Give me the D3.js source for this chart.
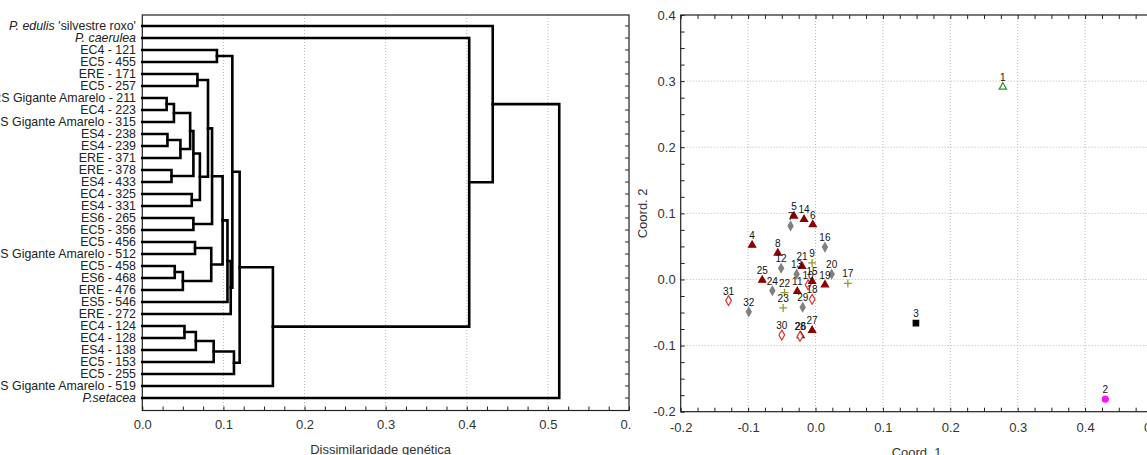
<!DOCTYPE html>
<html>
<head>
<meta charset="utf-8">
<script src="https://cdn.jsdelivr.net/npm/d3@7"></script>
<style>
  body { margin: 0; background: #fff; }
  svg text { font-family: Arial, "Liberation Sans", sans-serif; }
</style>
</head>
<body>
<div id="chart"></div>
<script>
// ---- dendrogram data ----
const leafLabels = [
  "P. edulis 'silvestre roxo'", "P. caerulea",
  "EC4 - 121", "EC5 - 455", "ERE - 171", "EC5 - 257",
  "BRS Gigante Amarelo - 211", "EC4 - 223", "BRS Gigante Amarelo - 315",
  "ES4 - 238", "ES4 - 239", "ERE - 371", "ERE - 378", "ES4 - 433",
  "EC4 - 325", "ES4 - 331", "ES6 - 265", "EC5 - 356", "EC5 - 456",
  "BRS Gigante Amarelo - 512", "EC5 - 458", "ES6 - 468", "ERE - 476",
  "ES5 - 546", "ERE - 272", "EC4 - 124", "EC4 - 128", "ES4 - 138",
  "EC5 - 153", "EC5 - 255", "BRS Gigante Amarelo - 519", "P.setacea"
];
// [child a, child b, height]; ids >= 32 refer to earlier merges
const merges = [
  [2, 3, 0.092],   // 32
  [4, 5, 0.068],   // 33
  [6, 7, 0.030],   // 34
  [34, 8, 0.039],  // 35
  [9, 10, 0.031],  // 36
  [36, 11, 0.047], // 37
  [35, 37, 0.059], // 38
  [12, 13, 0.036], // 39
  [38, 39, 0.063], // 40
  [14, 15, 0.061], // 41
  [40, 41, 0.071], // 42
  [33, 42, 0.081], // 43
  [16, 17, 0.063], // 44
  [43, 44, 0.086], // 45
  [18, 19, 0.065], // 46
  [20, 21, 0.040], // 47
  [47, 22, 0.050], // 48
  [46, 48, 0.085], // 49
  [45, 49, 0.099], // 50
  [50, 23, 0.105], // 51
  [51, 24, 0.109], // 52
  [32, 52, 0.111], // 53
  [25, 26, 0.052], // 54
  [54, 27, 0.066], // 55
  [55, 28, 0.088], // 56
  [56, 29, 0.113], // 57
  [53, 57, 0.120], // 58
  [58, 30, 0.161], // 59
  [1, 59, 0.403],  // 60
  [0, 60, 0.432],  // 61
  [61, 31, 0.514]  // 62
];
const italicLeaves = [0, 1, 31];
const distTicks = [0, 0.1, 0.2, 0.3, 0.4, 0.5, 0.6];

// ---- PCoA data ----
const pointIds = d3.range(1, 33);
const coord1 = [0.278, 0.430, 0.149, -0.094, -0.032, -0.004, -0.037, -0.056, -0.005, -0.011,
                -0.027, -0.051, -0.028, -0.017, -0.005, 0.014, 0.048, -0.005, 0.014, 0.024,
                -0.020, -0.046, -0.048, -0.064, -0.079, -0.022, -0.005, -0.023, -0.019, -0.050,
                -0.129, -0.099];
const coord2 = [0.291, -0.181, -0.066, 0.052, 0.096, 0.083, 0.081, 0.040, 0.025, -0.008,
                -0.018, 0.017, 0.008, 0.091, -0.003, 0.049, -0.006, -0.030, -0.008, 0.008,
                0.020, -0.020, -0.043, -0.017, -0.001, -0.085, -0.077, -0.086, -0.042, -0.084,
                -0.032, -0.049];
const pointGroup = ["edulis", "setacea", "caerulea", "tri", "tri", "tri", "dia", "tri", "plus", "open",
                    "tri", "dia", "dia", "tri", "tri", "dia", "plus", "open", "tri", "dia",
                    "tri", "plus", "plus", "dia", "tri", "tri", "tri", "open", "dia", "open",
                    "open", "dia"];
const coord1Ticks = [-0.2, -0.1, 0.0, 0.1, 0.2, 0.3, 0.4, 0.5];
const coord2Ticks = [-0.2, -0.1, 0.0, 0.1, 0.2, 0.3, 0.4];

const W = 1147, H = 455;
const fmt = d => d.toFixed(1);
const gridColor = "#b8b8b8";

const svg = d3.select("#chart").append("svg")
  .attr("width", W).attr("height", H);
svg.append("rect").attr("width", W).attr("height", H).attr("fill", "#fff");

// =============== left panel: dendrogram ===============
svg.append("clipPath").attr("id", "clipL")
  .append("rect").attr("x", 0).attr("y", 0).attr("width", 632).attr("height", H);
const left = svg.append("g").attr("clip-path", "url(#clipL)");

const dX = d3.scaleLinear().domain([0, 0.6]).range([142.3, 629]);
const dY = d3.scaleLinear().domain([0, leafLabels.length - 1]).range([26, 398]);
const dTop = 15, dBottom = 410.5;

// grid
left.append("g").selectAll("line").data(distTicks.slice(1, -1)).join("line")
  .attr("x1", d => dX(d)).attr("x2", d => dX(d))
  .attr("y1", dTop).attr("y2", dBottom)
  .attr("stroke", gridColor).attr("stroke-dasharray", "1,2");

// frame
left.append("rect").attr("x", dX(0)).attr("y", dTop)
  .attr("width", dX(0.6) - dX(0)).attr("height", dBottom - dTop)
  .attr("fill", "none").attr("stroke", "#222").attr("stroke-width", 1.2);

// bottom axis
const dAxis = left.append("g").attr("transform", `translate(0,${dBottom})`)
  .call(d3.axisBottom(dX).tickValues(d3.range(0, 0.6001, 0.025)).tickSize(-4).tickFormat(""));
dAxis.select(".domain").remove();
dAxis.selectAll("line").attr("stroke", "#222");
const dLab = left.append("g").attr("transform", `translate(0,${dBottom})`)
  .call(d3.axisBottom(dX).tickValues(distTicks).tickSize(0).tickPadding(9).tickFormat(fmt));
dLab.select(".domain").remove();
dLab.selectAll("text").attr("font-size", 13).attr("fill", "#333").attr("font-family", "Arial, 'Liberation Sans', sans-serif");

// right-edge ticks at each leaf
left.append("g").selectAll("line").data(leafLabels.map((d, i) => i)).join("line")
  .attr("x1", dX(0.6) - 4).attr("x2", dX(0.6))
  .attr("y1", d => dY(d)).attr("y2", d => dY(d))
  .attr("stroke", "#222");

left.append("text").attr("x", (dX(0) + dX(0.6)) / 2 - 5).attr("y", 454)
  .attr("text-anchor", "middle").attr("font-size", 13).attr("fill", "#333")
  .text("Dissimilaridade genética");

// tree
const nodeH = leafLabels.map(() => 0);
const nodeP = leafLabels.map((d, i) => i);
merges.forEach(([a, b, h]) => { nodeH.push(h); nodeP.push((nodeP[a] + nodeP[b]) / 2); });
left.append("g").selectAll("path").data(merges).join("path")
  .attr("d", ([a, b, h]) => {
    const p = d3.path();
    p.moveTo(dX(nodeH[a]), dY(nodeP[a]));
    p.lineTo(dX(h), dY(nodeP[a]));
    p.lineTo(dX(h), dY(nodeP[b]));
    p.lineTo(dX(nodeH[b]), dY(nodeP[b]));
    return p.toString();
  })
  .attr("fill", "none").attr("stroke", "#000").attr("stroke-width", 2.6)
  .attr("stroke-linejoin", "miter").attr("stroke-linecap", "square");

// leaf labels
const lab = left.append("g").selectAll("text").data(leafLabels).join("text")
  .attr("x", 136).attr("y", (d, i) => dY(i) + 4.3)
  .attr("text-anchor", "end").attr("font-size", 12.4).attr("fill", "#222");
lab.each(function (d, i) {
  const t = d3.select(this);
  if (i === 0) {
    t.append("tspan").attr("font-style", "italic").text("P. edulis");
    t.append("tspan").text(" 'silvestre roxo'");
  } else if (italicLeaves.includes(i)) {
    t.attr("font-style", "italic").text(d);
  } else {
    t.text(d);
  }
});

// =============== right panel: PCoA ===============
const sX = d3.scaleLinear().domain([-0.2, 0.5]).range([680.7, 1152.5]);
const sY = d3.scaleLinear().domain([-0.2, 0.4]).range([411.7, 15]);
const right = svg.append("g");

right.append("g").selectAll("line").data(coord1Ticks.slice(1, -1)).join("line")
  .attr("x1", d => sX(d)).attr("x2", d => sX(d)).attr("y1", sY(0.4)).attr("y2", sY(-0.2))
  .attr("stroke", gridColor).attr("stroke-dasharray", "1,2");
right.append("g").selectAll("line").data(coord2Ticks.slice(1, -1)).join("line")
  .attr("x1", sX(-0.2)).attr("x2", sX(0.5)).attr("y1", d => sY(d)).attr("y2", d => sY(d))
  .attr("stroke", gridColor).attr("stroke-dasharray", "1,2");

right.append("rect").attr("x", sX(-0.2)).attr("y", sY(0.4))
  .attr("width", sX(0.5) - sX(-0.2)).attr("height", sY(-0.2) - sY(0.4))
  .attr("fill", "none").attr("stroke", "#222").attr("stroke-width", 1.2);

const minorX = d3.range(-0.2, 0.5001, 0.025);
const minorY = d3.range(-0.2, 0.4001, 0.025);
const ax1 = right.append("g").attr("transform", `translate(0,${sY(-0.2)})`)
  .call(d3.axisBottom(sX).tickValues(minorX).tickSize(-4).tickFormat(""));
const ax2 = right.append("g").attr("transform", `translate(0,${sY(0.4)})`)
  .call(d3.axisTop(sX).tickValues(minorX).tickSize(-4).tickFormat(""));
const ax3 = right.append("g").attr("transform", `translate(${sX(-0.2)},0)`)
  .call(d3.axisLeft(sY).tickValues(minorY).tickSize(-4).tickFormat(""));
[ax1, ax2, ax3].forEach(a => { a.select(".domain").remove(); a.selectAll("line").attr("stroke", "#222"); });

const lx = right.append("g").attr("transform", `translate(0,${sY(-0.2)})`)
  .call(d3.axisBottom(sX).tickValues(coord1Ticks).tickSize(0).tickPadding(11).tickFormat(fmt));
const ly = right.append("g").attr("transform", `translate(${sX(-0.2)},0)`)
  .call(d3.axisLeft(sY).tickValues(coord2Ticks).tickSize(0).tickPadding(5).tickFormat(fmt));
[lx, ly].forEach(a => {
  a.select(".domain").remove();
  a.selectAll("text").attr("font-size", 13).attr("fill", "#333")
    .attr("font-family", "Arial, 'Liberation Sans', sans-serif");
});

right.append("text").attr("x", (sX(-0.2) + sX(0.5)) / 2).attr("y", 457)
  .attr("text-anchor", "middle").attr("font-size", 13).attr("fill", "#333").text("Coord. 1");
right.append("text").attr("transform", `translate(647,${(sY(0.4) + sY(-0.2)) / 2}) rotate(-90)`)
  .attr("text-anchor", "middle").attr("font-size", 13).attr("fill", "#333").text("Coord. 2");

// markers
const styles = {
  edulis:   { type: d3.symbolTriangle, size: 24, fill: "#fff", stroke: "#2f8f2f" },
  setacea:  { type: d3.symbolCircle,   size: 28, fill: "#ff10ff", stroke: "#ff10ff" },
  caerulea: { type: d3.symbolSquare,   size: 30, fill: "#000", stroke: "#000" },
  tri:      { type: d3.symbolTriangle, size: 22, fill: "#8b0000", stroke: "#8b0000" },
  dia:      { type: d3.symbolDiamond,  size: 22, fill: "#808080", stroke: "#808080" },
  open:     { type: d3.symbolDiamond,  size: 28, fill: "#fff", stroke: "#e0303a" },
  plus:     { type: d3.symbolCross,    size: 0,  fill: "none", stroke: "#9a9a2a" }
};
const pts = pointIds.map((id, i) => ({ id, x: coord1[i], y: coord2[i], g: pointGroup[i] }));
const mk = right.append("g");
pts.forEach(p => {
  const s = styles[p.g];
  const cx = sX(p.x), cy = sY(p.y);
  if (p.g === "plus") {
    mk.append("path")
      .attr("d", `M${cx - 4},${cy}H${cx + 4}M${cx},${cy - 4}V${cy + 4}`)
      .attr("stroke", s.stroke).attr("stroke-width", 1.3);
  } else {
    mk.append("path")
      .attr("transform", `translate(${cx},${cy})`)
      .attr("d", d3.symbol().type(s.type).size(s.size)())
      .attr("fill", s.fill).attr("stroke", s.stroke).attr("stroke-width", 1.2);
  }
});
right.append("g").selectAll("text").data(pts).join("text")
  .attr("x", d => sX(d.x)).attr("y", d => sY(d.y) - 6)
  .attr("text-anchor", "middle").attr("font-size", 10).attr("fill", "#111")
  .text(d => d.id);
</script>
</body>
</html>
